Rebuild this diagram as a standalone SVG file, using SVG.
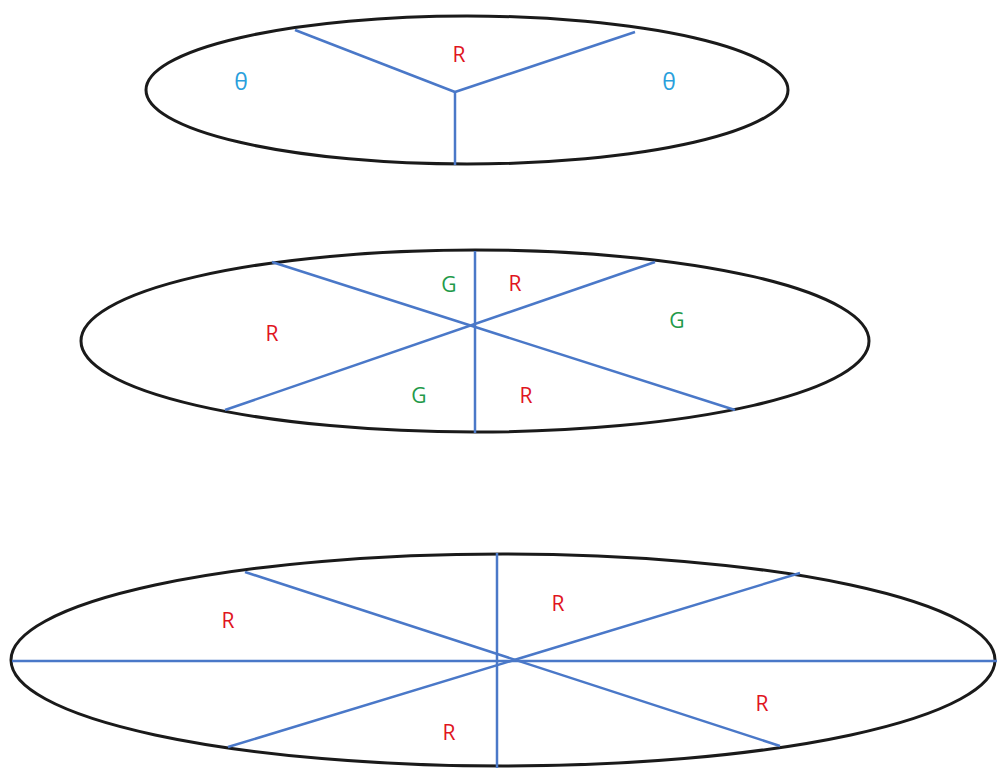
<svg xmlns="http://www.w3.org/2000/svg" width="997" height="768" viewBox="0 0 997 768">
<style>
.ell{fill:none;stroke:#1a1a1a;stroke-width:3}
.ln{stroke:#4a78c8;stroke-width:2.5;fill:none}
text{font-family:"Open Sans","Liberation Sans",sans-serif;font-size:21px;text-anchor:middle}
.r{fill:#e0141e}
.g{fill:#1f9a4a}
.t{fill:#2a9fdc;font-size:23px}
</style>
<rect width="997" height="768" fill="#fff"/>
<g id="top">
<ellipse class="ell" cx="467" cy="90" rx="321" ry="74"/>
<text class="r" x="459" y="62">R</text>
<text class="t" x="241" y="90">θ</text>
<text class="t" x="669" y="90">θ</text>
</g>
<g id="middle">
<ellipse class="ell" cx="475" cy="341" rx="394" ry="91"/>
<text class="g" x="449" y="292">G</text>
<text class="r" x="515" y="291">R</text>
<text class="g" x="677" y="328">G</text>
<text class="r" x="272" y="341">R</text>
<text class="g" x="419" y="403">G</text>
<text class="r" x="526" y="403">R</text>
</g>
<g id="bottom">
<ellipse class="ell" cx="503" cy="660" rx="492" ry="106"/>
<text class="r" x="228" y="628">R</text>
<text class="r" x="558" y="611">R</text>
<text class="r" x="762" y="711">R</text>
<text class="r" x="449" y="740">R</text>
</g>
<g id="connectors">
<line class="ln" x1="295" y1="30" x2="455" y2="92"/>
<line class="ln" x1="635" y1="32" x2="455" y2="92"/>
<line class="ln" x1="455" y1="92" x2="455" y2="165"/>
<line class="ln" x1="475" y1="251" x2="475" y2="433"/>
<line class="ln" x1="272" y1="262" x2="735" y2="410"/>
<line class="ln" x1="655" y1="262" x2="225" y2="410"/>
<line class="ln" x1="12" y1="661" x2="997" y2="661"/>
<line class="ln" x1="497" y1="553" x2="497" y2="768"/>
<line class="ln" x1="245" y1="572" x2="780" y2="746"/>
<line class="ln" x1="800" y1="573" x2="228" y2="747"/>
</g>
</svg>
